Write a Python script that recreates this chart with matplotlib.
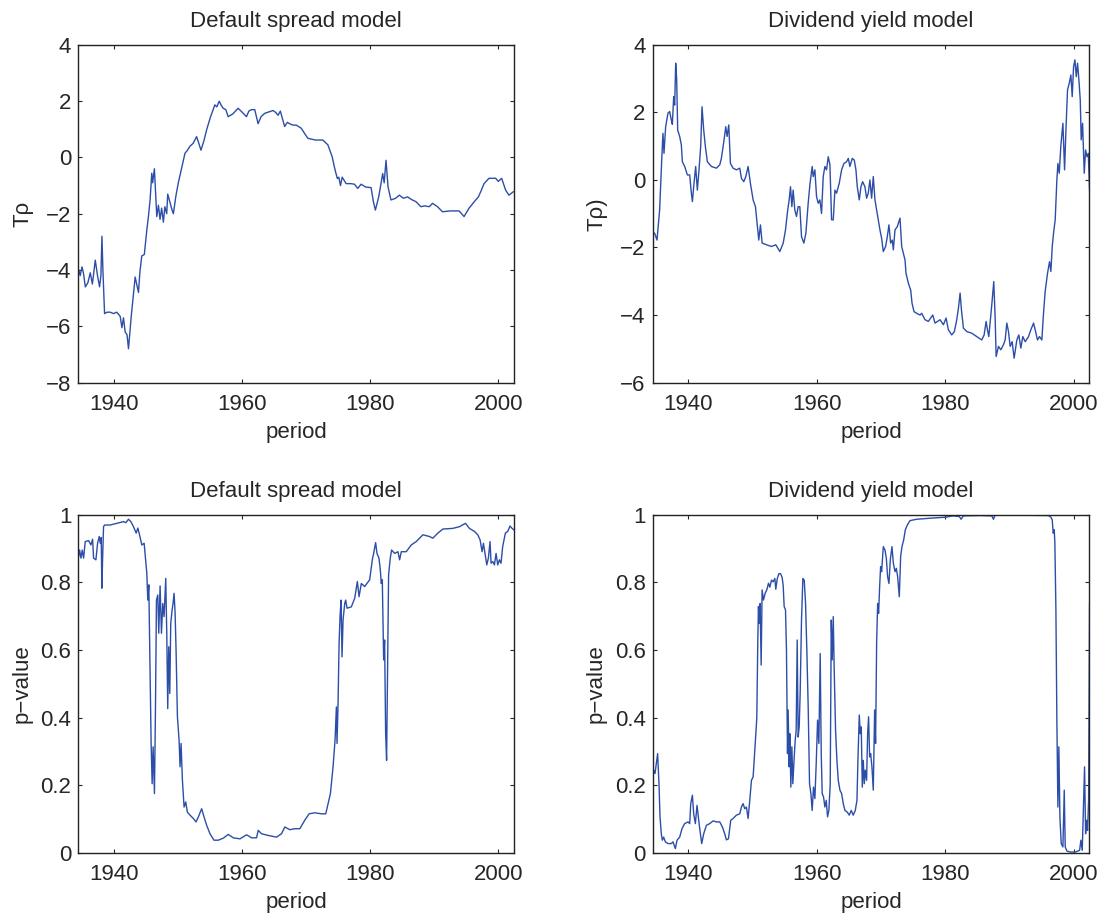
import matplotlib
matplotlib.use("Agg")
import matplotlib.pyplot as plt

plt.rcParams['font.family'] = ['Liberation Sans', 'DejaVu Sans']

# ---------------- data ----------------
ds_t_years = [1934.56, 1934.8, 1935.08, 1935.3, 1935.6, 1936.0, 1936.37, 1936.7, 1937.15, 1937.5,
              1937.82, 1938.03, 1938.19, 1938.34, 1938.6, 1939.0, 1939.48, 1940.0, 1940.5, 1941.04,
              1941.3, 1941.55, 1941.81, 1942.1, 1942.33, 1942.75, 1943.37, 1943.6, 1943.89, 1944.1,
              1944.4, 1944.8, 1945.18, 1945.44, 1945.7, 1945.96, 1946.1, 1946.37, 1946.74, 1947.0,
              1947.25, 1947.5, 1947.77, 1948.0, 1948.29, 1948.45, 1948.81, 1949.1, 1949.33, 1949.7,
              1950.1, 1950.6, 1951.14, 1951.5, 1951.92, 1952.4, 1952.95, 1953.3, 1953.63, 1954.1,
              1954.51, 1955.13, 1955.8, 1956.1, 1956.48, 1956.8, 1957.1, 1957.5, 1957.88, 1958.6,
              1959.43, 1960.1, 1960.73, 1961.1, 1961.5, 1962.02, 1962.54, 1963.0, 1963.58, 1964.2,
              1964.87, 1965.3, 1965.65, 1966.01, 1966.68, 1967.1, 1967.46, 1968.0, 1968.5, 1969.27,
              1969.8, 1970.31, 1971.5, 1972.64, 1973.42, 1974.09, 1974.4, 1974.61, 1974.9, 1975.13,
              1975.39, 1975.65, 1976.27, 1977.0, 1977.56, 1978.08, 1978.6, 1979.3, 1980.16, 1980.52,
              1980.83, 1981.35, 1981.97, 1982.2, 1982.49, 1982.8, 1983.26, 1984.0, 1984.56, 1985.2,
              1985.85, 1986.5, 1987.15, 1987.93, 1988.5, 1989.22, 1989.74, 1990.52, 1991.3, 1992.5,
              1993.89, 1994.66, 1995.44, 1996.48, 1996.9, 1997.25, 1997.77, 1998.55, 1999.59, 2000.0,
              2000.52, 2001.14, 2001.66, 2002.33]
ds_t_values = [-4.0, -4.2, -3.89, -4.1, -4.6, -4.45, -4.1, -4.5, -3.65, -4.2,
               -4.6, -4.2, -2.8, -4.0, -5.55, -5.5, -5.5, -5.55, -5.5, -5.65,
               -6.05, -5.7, -6.2, -6.3, -6.8, -5.67, -4.25, -4.5, -4.8, -4.1,
               -3.5, -3.45, -2.6, -2.1, -1.5, -0.56, -0.9, -0.4, -2.1, -1.7,
               -2.2, -1.8, -2.3, -1.75, -2.0, -1.3, -1.6, -1.85, -2.0, -1.4,
               -0.9, -0.4, 0.15, 0.25, 0.4, 0.5, 0.74, 0.5, 0.26, 0.6,
               0.98, 1.45, 1.87, 1.8, 2.0, 1.85, 1.75, 1.7, 1.45, 1.55,
               1.75, 1.6, 1.45, 1.65, 1.7, 1.7, 1.2, 1.45, 1.57, 1.62,
               1.67, 1.6, 1.5, 1.65, 1.1, 1.25, 1.2, 1.15, 1.15, 1.04,
               0.85, 0.68, 0.62, 0.62, 0.45, 0.03, -0.3, -0.5, -0.75, -0.7,
               -1.0, -0.7, -0.93, -0.93, -0.95, -1.1, -0.95, -1.05, -1.07, -1.57,
               -1.87, -1.4, -0.57, -0.9, -0.1, -1.04, -1.51, -1.45, -1.34, -1.45,
               -1.4, -1.5, -1.57, -1.75, -1.72, -1.75, -1.63, -1.75, -1.93, -1.9,
               -1.9, -2.1, -1.8, -1.51, -1.4, -1.22, -0.93, -0.74, -0.74, -0.85,
               -0.74, -1.16, -1.34, -1.22]

dy_t_years = [1934.44, 1934.81, 1935.17, 1935.58, 1935.95, 1936.1, 1936.26, 1936.52, 1936.88, 1937.14,
              1937.4, 1937.56, 1937.77, 1937.92, 1938.08, 1938.23, 1938.39, 1938.7, 1938.96, 1939.12,
              1939.48, 1939.9, 1940.26, 1940.52, 1940.68, 1940.88, 1941.19, 1941.45, 1941.71, 1941.97,
              1942.18, 1942.44, 1942.7, 1943.01, 1943.64, 1944.42, 1944.94, 1945.19, 1945.61, 1945.87,
              1946.08, 1946.34, 1946.6, 1947.01, 1947.53, 1948.05, 1948.31, 1948.68, 1948.99, 1949.35,
              1949.71, 1950.13, 1950.49, 1950.75, 1951.01, 1951.27, 1951.53, 1952.21, 1952.99, 1953.66,
              1954.29, 1954.81, 1955.17, 1955.48, 1955.74, 1955.95, 1956.16, 1956.36, 1956.62, 1956.88,
              1957.14, 1957.4, 1957.66, 1958.03, 1958.34, 1958.7, 1958.96, 1959.32, 1959.48, 1959.74,
              1960.0, 1960.26, 1960.52, 1960.78, 1961.04, 1961.3, 1961.56, 1961.82, 1962.08, 1962.34,
              1962.6, 1962.86, 1963.12, 1963.53, 1963.9, 1964.26, 1964.68, 1964.94, 1965.19, 1965.56,
              1965.87, 1966.13, 1966.34, 1966.65, 1966.91, 1967.17, 1967.53, 1967.79, 1968.05, 1968.31,
              1968.57, 1968.83, 1969.09, 1969.35, 1969.61, 1969.87, 1970.13, 1970.39, 1970.75, 1971.01,
              1971.27, 1971.53, 1971.79, 1971.95, 1972.21, 1972.57, 1972.99, 1973.25, 1973.51, 1973.77,
              1973.92, 1974.29, 1974.65, 1974.86, 1975.17, 1975.58, 1976.1, 1976.36, 1976.88, 1977.4,
              1978.08, 1978.44, 1979.22, 1979.74, 1980.16, 1980.52, 1981.04, 1981.45, 1981.82, 1982.08,
              1982.34, 1982.55, 1982.86, 1983.38, 1984.16, 1984.94, 1985.71, 1986.08, 1986.39, 1986.6,
              1986.81, 1987.01, 1987.27, 1987.58, 1987.79, 1987.95, 1988.31, 1988.68, 1989.09, 1989.35,
              1989.61, 1989.87, 1990.13, 1990.44, 1990.75, 1991.17, 1991.48, 1991.79, 1992.1, 1992.47,
              1992.99, 1993.35, 1993.77, 1994.03, 1994.39, 1994.7, 1995.06, 1995.32, 1995.58, 1995.95,
              1996.26, 1996.47, 1996.68, 1996.88, 1997.14, 1997.4, 1997.56, 1997.77, 1998.03, 1998.34,
              1998.6, 1998.81, 1999.06, 1999.32, 1999.58, 1999.79, 2000.0, 2000.21, 2000.42, 2000.62,
              2000.83, 2001.04, 2001.19, 2001.4, 2001.66, 2001.87, 2002.08, 2002.29, 2002.49]
dy_t_values = [-1.53, -1.58, -1.78, -0.89, 0.79, 1.38, 0.79, 1.58, 1.98, 2.03,
               1.78, 1.65, 2.47, 2.22, 3.46, 3.01, 1.48, 1.29, 1.04, 0.54,
               0.4, 0.15, 0.15, -0.39, -0.64, -0.2, 0.4, -0.3, 0.3, 0.99,
               2.17, 1.48, 0.99, 0.54, 0.4, 0.35, 0.45, 0.64, 1.19, 1.58,
               1.29, 1.63, 0.49, 0.35, 0.3, 0.35, 0.05, -0.05, 0.1, 0.4,
               -0.1, -0.59, -0.79, -1.28, -1.78, -1.33, -1.87, -1.92, -1.97, -1.92,
               -2.12, -1.87, -1.48, -0.94, -0.59, -0.2, -0.79, -0.3, -0.89, -1.08,
               -0.79, -0.79, -1.68, -1.87, -1.58, -0.69, -0.15, 0.4, 0.1, 0.3,
               -0.49, -0.69, -0.59, -0.99, 0.1, 0.4, 0.3, 0.69, 0.45, -1.18,
               -1.18, -0.3, -0.39, -0.1, 0.3, 0.49, 0.54, 0.64, 0.4, 0.64,
               0.59, 0.3, -0.2, -0.59, -0.2, -0.05, -0.2, -0.54, -0.39, 0.0,
               -0.54, 0.1, -0.59, -0.89, -1.18, -1.48, -1.73, -2.12, -1.97, -1.68,
               -1.33, -1.87, -1.78, -2.07, -1.48, -1.38, -1.13, -1.97, -2.17, -2.37,
               -2.76, -3.06, -3.26, -3.65, -3.9, -3.95, -4.0, -3.95, -4.14, -4.19,
               -4.0, -4.24, -4.14, -4.29, -4.09, -4.44, -4.59, -4.49, -4.14, -3.8,
               -3.35, -3.85, -4.39, -4.49, -4.54, -4.64, -4.74, -4.59, -4.19, -4.44,
               -4.64, -4.24, -3.7, -3.01, -4.05, -5.23, -4.93, -5.03, -4.88, -4.74,
               -4.24, -4.49, -4.93, -4.79, -5.28, -4.74, -4.59, -4.98, -4.64, -4.79,
               -4.64, -4.44, -4.24, -4.44, -4.74, -4.64, -4.74, -3.95, -3.3, -2.76,
               -2.42, -2.71, -1.97, -1.58, -1.18, 0.0, 0.49, 0.2, 1.04, 1.68,
               0.3, 1.48, 2.67, 2.86, 3.11, 2.47, 3.36, 3.56, 3.06, 3.46,
               2.96, 2.37, 1.19, 1.68, 0.2, 0.89, 0.69, 0.79, -0.3]

ds_p_years = [1934.55, 1934.71, 1934.92, 1935.12, 1935.33, 1935.59, 1936.11, 1936.47, 1936.73, 1936.89,
              1937.25, 1937.51, 1937.77, 1937.93, 1938.08, 1938.18, 1938.29, 1938.44, 1938.6, 1939.48,
              1940.52, 1941.56, 1941.92, 1942.33, 1942.7, 1943.11, 1943.53, 1943.79, 1944.05, 1944.41,
              1944.77, 1945.03, 1945.19, 1945.34, 1945.5, 1945.71, 1945.86, 1946.02, 1946.17, 1946.38,
              1946.54, 1946.69, 1946.9, 1947.05, 1947.26, 1947.47, 1947.68, 1947.88, 1948.14, 1948.3,
              1948.45, 1948.61, 1948.77, 1948.92, 1949.13, 1949.28, 1949.44, 1949.6, 1949.75, 1949.96,
              1950.22, 1950.37, 1950.53, 1950.74, 1951.0, 1951.26, 1951.51, 1951.93, 1952.45, 1952.86,
              1953.23, 1953.74, 1954.11, 1954.52, 1955.04, 1955.66, 1956.34, 1957.12, 1957.89, 1958.67,
              1959.71, 1960.75, 1961.52, 1962.3, 1962.56, 1963.08, 1964.12, 1965.41, 1966.19, 1966.71,
              1967.49, 1968.27, 1969.05, 1969.82, 1970.5, 1971.38, 1972.42, 1973.09, 1973.45, 1973.82,
              1974.23, 1974.54, 1974.75, 1974.85, 1975.01, 1975.17, 1975.32, 1975.48, 1975.63, 1975.79,
              1976.05, 1976.2, 1976.41, 1977.08, 1977.6, 1978.02, 1978.28, 1978.64, 1979.16, 1979.94,
              1980.35, 1980.56, 1980.87, 1981.08, 1981.39, 1981.6, 1981.75, 1981.91, 1982.12, 1982.27,
              1982.43, 1982.58, 1982.74, 1982.89, 1983.15, 1983.36, 1983.83, 1984.35, 1984.61, 1984.87,
              1985.64, 1986.42, 1987.2, 1988.24, 1989.27, 1989.79, 1990.57, 1991.35, 1992.9, 1993.94,
              1994.88, 1995.5, 1996.28, 1996.8, 1997.16, 1997.47, 1997.68, 1997.99, 1998.2, 1998.45,
              1998.71, 1998.87, 1999.13, 1999.39, 1999.65, 1999.91, 2000.17, 2000.42, 2000.68, 2001.1,
              2001.46, 2001.83, 2002.14, 2002.4]
ds_p_values = [0.877, 0.896, 0.872, 0.896, 0.872, 0.921, 0.924, 0.911, 0.928, 0.872,
               0.867, 0.916, 0.936, 0.916, 0.933, 0.783, 0.867, 0.965, 0.970, 0.970,
               0.975, 0.980, 0.977, 0.987, 0.980, 0.965, 0.946, 0.961, 0.941, 0.911,
               0.916, 0.862, 0.827, 0.748, 0.793, 0.531, 0.324, 0.205, 0.314, 0.176,
               0.432, 0.748, 0.763, 0.650, 0.790, 0.650, 0.738, 0.699, 0.812, 0.650,
               0.427, 0.610, 0.472, 0.679, 0.719, 0.738, 0.768, 0.709, 0.600, 0.403,
               0.334, 0.255, 0.324, 0.215, 0.136, 0.151, 0.121, 0.112, 0.102, 0.092,
               0.107, 0.131, 0.107, 0.082, 0.057, 0.038, 0.038, 0.044, 0.055, 0.045,
               0.042, 0.054, 0.045, 0.045, 0.067, 0.057, 0.052, 0.047, 0.057, 0.077,
               0.069, 0.072, 0.072, 0.097, 0.116, 0.119, 0.116, 0.116, 0.146, 0.176,
               0.255, 0.334, 0.432, 0.324, 0.442, 0.620, 0.699, 0.748, 0.580, 0.689,
               0.738, 0.748, 0.724, 0.728, 0.753, 0.803, 0.758, 0.797, 0.788, 0.808,
               0.867, 0.886, 0.918, 0.886, 0.872, 0.837, 0.797, 0.808, 0.571, 0.630,
               0.353, 0.274, 0.561, 0.822, 0.872, 0.896, 0.886, 0.891, 0.867, 0.891,
               0.891, 0.911, 0.921, 0.941, 0.936, 0.931, 0.946, 0.958, 0.960, 0.965,
               0.975, 0.960, 0.951, 0.941, 0.926, 0.891, 0.916, 0.877, 0.852, 0.872,
               0.921, 0.857, 0.862, 0.852, 0.886, 0.852, 0.867, 0.857, 0.906, 0.946,
               0.951, 0.967, 0.960, 0.956]

dy_p_years = [1934.44, 1934.65, 1934.86, 1935.06, 1935.27, 1935.48, 1935.64, 1935.84, 1936.0, 1936.21,
              1936.47, 1936.88, 1937.4, 1937.66, 1938.03, 1938.29, 1938.7, 1939.06, 1939.48, 1940.0,
              1940.26, 1940.42, 1940.68, 1940.88, 1941.14, 1941.4, 1941.61, 1941.82, 1942.13, 1942.44,
              1942.86, 1943.38, 1943.9, 1944.42, 1944.94, 1945.35, 1945.71, 1945.97, 1946.29, 1946.65,
              1947.01, 1947.53, 1948.05, 1948.31, 1948.57, 1948.83, 1949.09, 1949.35, 1949.61, 1949.87,
              1950.13, 1950.34, 1950.55, 1950.7, 1950.86, 1950.96, 1951.06, 1951.22, 1951.38, 1951.53,
              1951.74, 1952.0, 1952.26, 1952.52, 1952.73, 1952.99, 1953.25, 1953.51, 1953.66, 1953.87,
              1954.13, 1954.39, 1954.65, 1954.81, 1954.96, 1955.17, 1955.32, 1955.48, 1955.58, 1955.74,
              1955.84, 1956.0, 1956.16, 1956.31, 1956.47, 1956.68, 1956.83, 1956.99, 1957.14, 1957.3,
              1957.45, 1957.66, 1957.87, 1958.08, 1958.29, 1958.49, 1958.7, 1958.91, 1959.12, 1959.32,
              1959.53, 1959.74, 1959.95, 1960.16, 1960.36, 1960.57, 1960.73, 1960.88, 1961.09, 1961.3,
              1961.51, 1961.71, 1961.92, 1962.13, 1962.29, 1962.44, 1962.6, 1962.75, 1962.96, 1963.17,
              1963.38, 1963.64, 1963.9, 1964.16, 1964.42, 1964.78, 1965.09, 1965.4, 1965.71, 1966.03,
              1966.29, 1966.44, 1966.65, 1966.81, 1966.96, 1967.12, 1967.27, 1967.43, 1967.58, 1967.79,
              1967.95, 1968.1, 1968.26, 1968.42, 1968.62, 1968.83, 1969.04, 1969.19, 1969.35, 1969.51,
              1969.66, 1969.82, 1969.97, 1970.13, 1970.39, 1970.65, 1970.86, 1971.06, 1971.27, 1971.48,
              1971.74, 1971.95, 1972.21, 1972.42, 1972.62, 1972.88, 1973.09, 1973.3, 1973.56, 1973.82,
              1974.13, 1974.55, 1975.58, 1977.66, 1980.0, 1981.3, 1982.23, 1982.49, 1982.86, 1985.45,
              1987.27, 1987.53, 1987.79, 1991.69, 1996.1, 1996.47, 1996.68, 1996.83, 1996.99, 1997.09,
              1997.25, 1997.4, 1997.56, 1997.71, 1997.87, 1998.08, 1998.34, 1998.55, 1998.7, 1998.96,
              1999.48, 2000.26, 2000.94, 2001.14, 2001.35, 2001.61, 2001.71, 2001.87, 2002.03, 2002.18,
              2002.34, 2002.49]
dy_p_values = [0.235, 0.245, 0.235, 0.265, 0.294, 0.205, 0.107, 0.057, 0.038, 0.047,
               0.033, 0.028, 0.028, 0.033, 0.013, 0.038, 0.047, 0.072, 0.087, 0.092,
               0.087, 0.146, 0.171, 0.116, 0.087, 0.141, 0.107, 0.072, 0.028, 0.057,
               0.082, 0.087, 0.095, 0.092, 0.092, 0.077, 0.057, 0.039, 0.042, 0.097,
               0.102, 0.112, 0.116, 0.136, 0.146, 0.131, 0.136, 0.102, 0.156, 0.215,
               0.225, 0.289, 0.353, 0.398, 0.630, 0.729, 0.679, 0.738, 0.556, 0.778,
               0.748, 0.768, 0.778, 0.798, 0.786, 0.807, 0.802, 0.812, 0.780, 0.810,
               0.826, 0.826, 0.815, 0.790, 0.729, 0.719, 0.600, 0.294, 0.423, 0.255,
               0.353, 0.195, 0.314, 0.205, 0.265, 0.334, 0.363, 0.630, 0.343, 0.373,
               0.472, 0.689, 0.812, 0.807, 0.738, 0.600, 0.432, 0.205, 0.176, 0.126,
               0.195, 0.161, 0.265, 0.393, 0.324, 0.590, 0.294, 0.176, 0.166, 0.136,
               0.156, 0.107, 0.126, 0.205, 0.689, 0.571, 0.699, 0.541, 0.363, 0.274,
               0.215, 0.186, 0.176, 0.146, 0.126, 0.121, 0.112, 0.126, 0.112, 0.126,
               0.156, 0.274, 0.408, 0.353, 0.373, 0.195, 0.274, 0.205, 0.245, 0.215,
               0.353, 0.403, 0.284, 0.294, 0.255, 0.186, 0.423, 0.324, 0.620, 0.738,
               0.709, 0.788, 0.847, 0.832, 0.906, 0.896, 0.872, 0.817, 0.797, 0.867,
               0.906, 0.857, 0.832, 0.842, 0.817, 0.758, 0.877, 0.906, 0.926, 0.956,
               0.970, 0.983, 0.987, 0.990, 0.993, 0.997, 0.995, 0.987, 0.997, 0.998,
               0.997, 0.987, 0.999, 0.999, 0.998, 0.993, 0.985, 0.946, 0.956, 0.916,
               0.719, 0.393, 0.136, 0.314, 0.107, 0.028, 0.018, 0.186, 0.018, 0.006,
               0.003, 0.003, 0.008, 0.038, 0.008, 0.195, 0.255, 0.057, 0.097, 0.067,
               0.156, 0.738]

titles = ["Default spread model", "Dividend yield model",
          "Default spread model", "Dividend yield model"]
ylabels = ["T\u03c1", "T\u03c1)", "p\u2212value", "p\u2212value"]
xlabel = "period"
xticks = [1940, 1960, 1980, 2000]
xlim = (1934.5, 2002.45)
t_left_ticks = [-8, -6, -4, -2, 0, 2, 4]
t_right_ticks = [-6, -4, -2, 0, 2, 4]
p_ticks = [0, 0.2, 0.4, 0.6, 0.8, 1]
p_ticklabels = ["0", "0.2", "0.4", "0.6", "0.8", "1"]

# ---------------- figure ----------------
line_color = "#2c4ea8"
text_color = "#262626"

fig = plt.figure(figsize=(11.04, 9.14), dpi=100)
positions = [
    [0.0709, 0.5815, 0.3947, 0.3693],
    [0.5912, 0.5815, 0.3955, 0.3693],
    [0.0709, 0.0667, 0.3947, 0.3700],
    [0.5912, 0.0667, 0.3955, 0.3700],
]
series = [(ds_t_years, ds_t_values), (dy_t_years, dy_t_values),
          (ds_p_years, ds_p_values), (dy_p_years, dy_p_values)]
yticks_list = [t_left_ticks, t_right_ticks, p_ticks, p_ticks]
ylims = [(-8, 4), (-6, 4), (0, 1), (0, 1)]
ylabel_pads = [9, 9, 6, 6]

for i in range(4):
    ax = fig.add_axes(positions[i])
    xs, ys = series[i]
    ax.plot(xs, ys, color=line_color, lw=1.0)
    ax.set_xlim(*xlim)
    ax.set_ylim(*ylims[i])
    ax.set_xticks(xticks)
    ax.set_yticks(yticks_list[i])
    if i >= 2:
        ax.set_yticklabels(p_ticklabels)
    ax.tick_params(direction="in", top=True, right=True, length=3.2, width=0.8,
                   labelsize=16, colors=text_color)
    ax.tick_params(axis="x", pad=8)
    ax.tick_params(axis="y", pad=5)
    for sp in ax.spines.values():
        sp.set_linewidth(1.0)
        sp.set_color("#222222")
    ax.set_title(titles[i], fontsize=16, color=text_color, pad=13)
    ax.set_xlabel(xlabel, fontsize=16, color=text_color, labelpad=5)
    ax.set_ylabel(ylabels[i], fontsize=16, color=text_color, labelpad=ylabel_pads[i])

fig.savefig("out.png", dpi=100)
